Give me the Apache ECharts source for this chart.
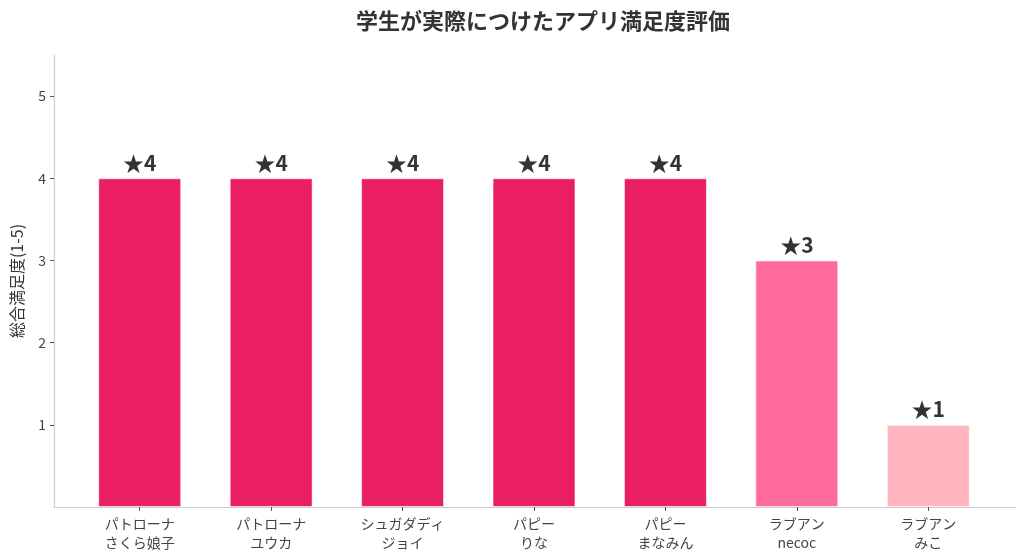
<!DOCTYPE html>
<html>
<head>
<meta charset="utf-8">
<script src="https://cdn.jsdelivr.net/npm/echarts@6/dist/echarts.min.js"></script>
<style>
  html, body { margin: 0; padding: 0; background: #fff; }
  #main { width: 1024px; height: 559px; }
</style>
</head>
<body>
<div id="main"></div>
<script>
// データ
const apps = ['パトローナ\nさくら娘子', 'パトローナ\nユウカ', 'シュガダディ\nジョイ', 'パピー\nりな', 'パピー\nまなみん', 'ラブアン\nnecoc', 'ラブアン\nみこ']
const scores = [4, 4, 4, 4, 4, 3, 1]
const barColors = ['#E91E63', '#E91E63', '#E91E63', '#E91E63', '#E91E63', '#FF6B9D', '#FFB6C1']
const yTicks = [1, 2, 3, 4, 5]

const font = '"Noto Sans CJK JP", "Noto Sans", sans-serif'
const mychart = echarts.init(document.getElementById('main'))

const option = {
    textStyle: { fontFamily: font },
    title: {
        text: '学生が実際につけたアプリ満足度評価',
        left: 538,
        textAlign: 'center',
        top: 5,
        textStyle: { fontSize: 22, fontWeight: 'bold', color: '#333', fontFamily: font }
    },
    grid: [
        // 軸線用
        { left: 54, right: 9, top: 55, bottom: 52 },
        // 棒グラフ用
        { left: 74, right: 30, top: 55, bottom: 52 }
    ],
    xAxis: [
        {
            gridIndex: 0, type: 'value', min: 0, max: 1,
            axisLine: { show: true, lineStyle: { color: '#cccccc', width: 1.2 } },
            axisTick: { show: false }, axisLabel: { show: false }, splitLine: { show: false }
        },
        {
            gridIndex: 1, type: 'category', data: apps,
            axisLine: { show: false },
            axisTick: { show: true, alignWithLabel: true, length: 4, lineStyle: { color: '#555' } },
            axisLabel: { color: '#444', fontSize: 14, lineHeight: 19, margin: 7, fontFamily: font },
            splitLine: { show: false }
        }
    ],
    yAxis: [
        {
            gridIndex: 0, type: 'value', min: 0, max: 5.5, interval: 1,
            name: '総合満足度(1-5)', nameLocation: 'middle', nameGap: 29,
            nameTextStyle: { fontSize: 16, color: '#333', fontFamily: font },
            axisLine: { show: true, lineStyle: { color: '#cccccc', width: 1.2 } },
            axisTick: { show: true, length: 4, lineStyle: { color: '#555' },
                customValues: yTicks },
            axisLabel: {
                color: '#444', fontSize: 14, margin: 8, fontFamily: font,
                customValues: yTicks
            },
            splitLine: { show: false }
        },
        {
            gridIndex: 1, type: 'value', min: 0, max: 5.5, show: false
        }
    ],
    series: [{
        type: 'bar',
        xAxisIndex: 1,
        yAxisIndex: 1,
        barWidth: 83,
        data: scores.map((v, i) => ({
            value: v,
            itemStyle: { color: barColors[i], borderColor: 'rgba(255,255,255,0.6)', borderWidth: 1 }
        })),
        label: {
            show: true,
            position: 'top',
            distance: 5,
            formatter: p => '★' + p.value,
            fontSize: 21,
            fontWeight: 'bold',
            color: '#333',
            fontFamily: font
        }
    }]
}
mychart.setOption(option)
</script>
</body>
</html>
